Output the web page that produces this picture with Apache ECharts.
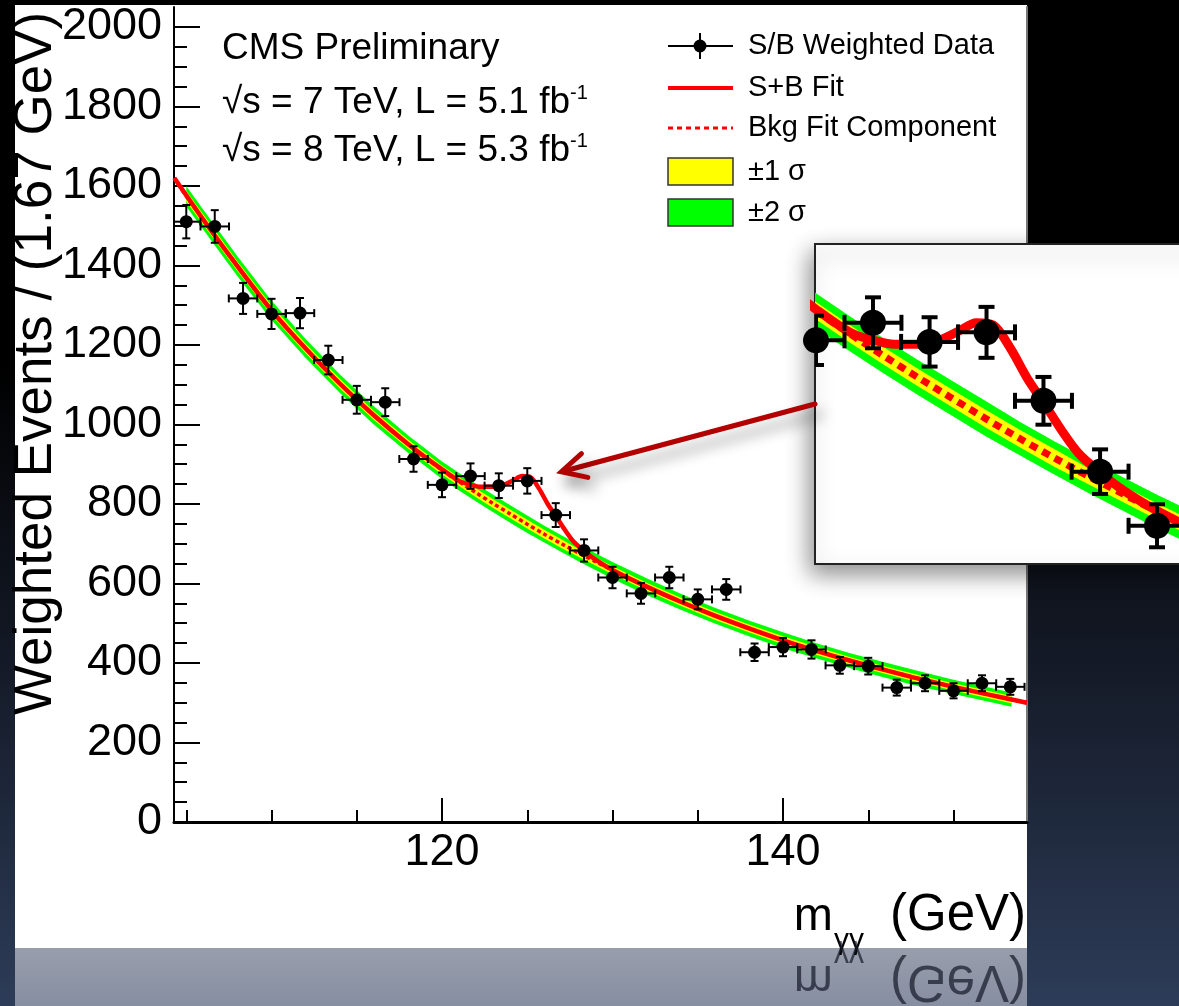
<!DOCTYPE html>
<html>
<head>
    <meta charset="utf-8">
    <title>CMS Preliminary - S/B weighted diphoton mass</title>
    <script src="https://cdn.jsdelivr.net/npm/echarts@6/dist/echarts.min.js"></script>
    <style>
        html, body { margin: 0; padding: 0; }
        body {
            width: 1179px; height: 1006px; overflow: hidden;
            background: linear-gradient(to bottom, #000 0%, #000 36%, #141a27 66%, #2d3c58 100%);
        }
        #chart { width: 1179px; height: 1006px; }
    </style>
</head>
<body>
<div id="chart"></div>
<script>
    // S/B weighted data: bin centres (GeV), weighted events, errors
    var massBins = [105.0, 106.67, 108.33, 110.0, 111.67, 113.33, 115.0, 116.67, 118.33, 120.0,
        121.67, 123.33, 125.0, 126.67, 128.33, 130.0, 131.67, 133.33, 135.0, 136.67,
        138.33, 140.0, 141.67, 143.33, 145.0, 146.67, 148.33, 150.0, 151.67, 153.33];
    var weightedEvents = [1510, 1498, 1317, 1278, 1280, 1162, 1062, 1056, 913, 848,
        870, 846, 858, 772, 683, 615, 575, 615, 560, 585,
        427, 440, 434, 394, 392, 338, 349, 330, 349, 340];
    var eventErrors = [42, 41, 39, 38, 38, 36, 35, 35, 32, 31,
        32, 31, 32, 30, 28, 27, 26, 27, 25, 26,
        22, 23, 23, 21, 21, 20, 20, 19, 20, 20];
    var binWidth = 1.67;

    // background fit component and its +-1 / +-2 sigma half widths
    var fitMass = [104.3, 105, 106, 108, 110, 112, 114, 116, 118, 120,
        121, 122, 123, 124, 125, 126, 127, 128, 129, 130,
        132, 134, 136, 138, 140, 142, 144, 146, 148, 150, 152, 153.4, 154.3];
    var bkgFit = [1620, 1574, 1515, 1398, 1287, 1191, 1103, 1023, 951, 885,
        856, 828, 801, 775, 749, 724, 700, 677, 655, 633,
        592, 554, 519, 487, 457, 430, 405, 382, 360, 340, 321, 308, 300];
    var sigma1 = [13, 13, 13, 12, 12, 12, 12, 11, 11, 11,
        11, 11, 11, 11, 11, 11, 11, 10, 10, 10,
        10, 10, 10, 10, 10, 10, 9, 9, 9, 9, 9, 9, 9];
    var sigma2 = [26, 26, 25, 25, 24, 24, 23, 23, 22, 22,
        22, 22, 22, 22, 22, 21, 21, 21, 21, 21,
        21, 20, 20, 20, 20, 19, 19, 19, 19, 18, 18, 18, 18];

    // signal + background fit
    var sbMass = [104.3, 106, 108, 110, 112, 114, 116, 118, 120,
        121, 121.6, 122.3, 123, 123.6, 124.2, 124.7, 125.2, 125.7, 126.2, 126.7, 127.2, 127.7, 128.3, 129, 130,
        132, 134, 136, 138, 140, 142, 144, 146, 148, 150, 152, 154.3];
    var sbFit = [1620, 1515, 1398, 1287, 1191, 1103, 1023, 951, 887,
        858, 849, 843, 843, 848, 860, 870, 867, 838, 800, 768, 735, 706, 683, 660, 634,
        592, 554, 519, 487, 457, 430, 405, 382, 360, 340, 321, 300];

    // axis ticks
    var xMajorTicks = [120, 140];
    var xMinorTicks = [105, 110, 115, 125, 130, 135, 145, 150];
    var yMajorTicks = [0, 200, 400, 600, 800, 1000, 1200, 1400, 1600, 1800, 2000];
    var yMinorTicks = [50, 100, 150, 250, 300, 350, 450, 500, 550, 650, 700, 750, 850, 900, 950,
        1050, 1100, 1150, 1250, 1300, 1350, 1450, 1500, 1550, 1650, 1700, 1750, 1850, 1900, 1950];

    // arrow from the inset to the excess (data coordinates)
    var arrowTip = [127.0, 881];
    var arrowTail = [119.97, 768];

    var font = "'Liberation Sans', Arial, Helvetica, sans-serif";

    function pairs(xs, ys) {
        return xs.map(function (x, i) { return [x, ys[i]]; });
    }

    // green / yellow band: polygon between bkg-half and bkg+half (the end samples are only for the lines)
    function band(half, color, xi, yi) {
        return {
            type: 'custom', xAxisIndex: xi, yAxisIndex: yi, clip: true, silent: true, z: 1,
            data: [[fitMass[1], bkgFit[1]]],
            renderItem: function (params, api) {
                var upper = [], lower = [];
                for (var i = 1; i < fitMass.length - 1; i++) {
                    upper.push(api.coord([fitMass[i], bkgFit[i] + half[i]]));
                    lower.unshift(api.coord([fitMass[i], bkgFit[i] - half[i]]));
                }
                return { type: 'polygon', shape: { points: upper.concat(lower) }, style: { fill: color } };
            }
        };
    }

    function errorBars(xi, yi, lw, cap) {
        return {
            type: 'custom', xAxisIndex: xi, yAxisIndex: yi, clip: true, silent: true, z: 5,
            encode: { x: 0, y: 1 },
            data: massBins.map(function (m, i) { return [m, weightedEvents[i], eventErrors[i]]; }),
            renderItem: function (params, api) {
                var x = api.value(0), y = api.value(1), e = api.value(2), h = binWidth / 2;
                var l = api.coord([x - h, y]), r = api.coord([x + h, y]);
                var t = api.coord([x, y + e]), b = api.coord([x, y - e]);
                var st = { stroke: '#000', lineWidth: lw };
                function seg(x1, y1, x2, y2) {
                    return { type: 'line', shape: { x1: x1, y1: y1, x2: x2, y2: y2 }, style: st };
                }
                return { type: 'group', children: [
                    seg(l[0], l[1], r[0], r[1]),
                    seg(t[0], t[1], b[0], b[1]),
                    seg(l[0], l[1] - cap, l[0], l[1] + cap),
                    seg(r[0], r[1] - cap, r[0], r[1] + cap),
                    seg(t[0] - cap, t[1], t[0] + cap, t[1]),
                    seg(b[0] - cap, b[1], b[0] + cap, b[1])
                ] };
            }
        };
    }

    function plotSeries(xi, yi, k) {
        return [
            band(sigma2, '#00ff00', xi, yi),
            band(sigma1, '#ffff00', xi, yi),
            {
                type: 'line', name: 'Bkg Fit Component', xAxisIndex: xi, yAxisIndex: yi,
                data: pairs(fitMass, bkgFit), smooth: 0.3, symbol: 'none', silent: true, z: 3,
                lineStyle: { color: '#ff0000', width: 3.5 * k, type: [4 * k, 3 * k], opacity: 1 }
            }, {
                type: 'line', name: 'S+B Fit', xAxisIndex: xi, yAxisIndex: yi,
                data: pairs(sbMass, sbFit), smooth: 0.3, symbol: 'none', silent: true, z: 4,
                lineStyle: { color: '#ff0000', width: 4.5 * k, opacity: 1 }
            },
            errorBars(xi, yi, 2 * k, 4 * k),
            {
                type: 'scatter', name: 'S/B Weighted Data', xAxisIndex: xi, yAxisIndex: yi,
                data: pairs(massBins, weightedEvents), symbol: 'circle', symbolSize: 13 * k,
                itemStyle: { color: '#000', opacity: 1 }, silent: true, z: 6
            }
        ];
    }

    function txt(text, x, y, size, align) {
        return {
            type: 'text', x: x, y: y, z: 10,
            style: { text: text, fontSize: size, fontFamily: font, fill: '#000',
                     align: align || 'left', verticalAlign: 'middle' }
        };
    }

    function mirrored(text, x, y, size, align) {
        var el = txt(text, x, 2 * 948 - y, size, align);
        el.scaleY = -1;
        el.z = 11;
        el.style.fill = 'rgba(22,28,42,0.72)';
        return el;
    }

    var sup = { sup: { fontSize: 20, verticalAlign: 'top', lineHeight: 24, fontFamily: font } };

    var staticGraphics = [
        // slide panel and its reflection
        { type: 'rect', z: -10, shape: { x: 15, y: 5, width: 1012, height: 943 }, style: { fill: '#fff' } },
        { type: 'rect', z: 10, shape: { x: 15, y: 948, width: 1012, height: 58 },
          style: { fill: { type: 'linear', x: 0, y: 0, x2: 0, y2: 1,
                  colorStops: [{ offset: 0, color: '#989eac' }, { offset: 1, color: '#868ea1' }] } } },

        // y axis title
        { type: 'text', x: 36, y: 715, rotation: Math.PI / 2, z: 10,
          style: { text: 'Weighted Events / (1.67 GeV)', fontSize: 53, fontFamily: font, fill: '#000',
                   align: 'left', verticalAlign: 'middle' } },

        // x axis title and its mirror image
        txt('m', 833, 917, 47, 'right'),
        txt('γγ', 834, 941, 30, 'left'),
        txt('(GeV)', 1026, 916, 51, 'right'),
        mirrored('m', 833, 917, 47, 'right'),
        mirrored('γγ', 834, 941, 30, 'left'),
        mirrored('(GeV)', 1026, 916, 51, 'right'),

        // CMS labels
        txt('CMS Preliminary', 222, 49, 37),
        { type: 'text', x: 222, y: 103, z: 10,
          style: { text: '√s = 7 TeV, L = 5.1 fb{sup|-1}', fontSize: 37, lineHeight: 40, fontFamily: font,
                   fill: '#000', verticalAlign: 'middle', rich: sup } },
        { type: 'text', x: 222, y: 151, z: 10,
          style: { text: '√s = 8 TeV, L = 5.3 fb{sup|-1}', fontSize: 37, lineHeight: 40, fontFamily: font,
                   fill: '#000', verticalAlign: 'middle', rich: sup } },

        // legend
        { type: 'line', z: 10, shape: { x1: 668, y1: 46, x2: 733, y2: 46 }, style: { stroke: '#000', lineWidth: 2 } },
        { type: 'line', z: 10, shape: { x1: 700, y1: 33, x2: 700, y2: 59 }, style: { stroke: '#000', lineWidth: 2 } },
        { type: 'circle', z: 10, shape: { cx: 700, cy: 46, r: 6.5 }, style: { fill: '#000' } },
        txt('S/B Weighted Data', 748, 46, 29),
        { type: 'line', z: 10, shape: { x1: 668, y1: 88, x2: 733, y2: 88 }, style: { stroke: '#ff0000', lineWidth: 4 } },
        txt('S+B Fit', 748, 88, 29),
        { type: 'line', z: 10, shape: { x1: 668, y1: 128, x2: 733, y2: 128 }, style: { stroke: '#ff0000', lineWidth: 3, lineDash: [5, 4] } },
        txt('Bkg Fit Component', 748, 128, 29),
        { type: 'rect', z: 10, shape: { x: 668, y: 158, width: 65, height: 27 }, style: { fill: '#ffff00', stroke: '#333', lineWidth: 1.5 } },
        txt('±1 σ', 748, 172, 29),
        { type: 'rect', z: 10, shape: { x: 668, y: 199, width: 65, height: 27 }, style: { fill: '#00ff00', stroke: '#333', lineWidth: 1.5 } },
        txt('±2 σ', 748, 213, 29)
    ];

    var noSplit = { show: false };
    var labelStyle = { fontSize: 45, fontFamily: font, color: '#000' };

    var option = {
        animation: false,
        textStyle: { fontFamily: font },
        grid: [
            { left: 174, top: 7, width: 853, height: 815, outerBoundsMode: 'none' },
            { left: 815, top: 244, width: 400, height: 320, outerBoundsMode: 'none', show: true,
              backgroundColor: '#fff', borderColor: '#222', borderWidth: 2,
              shadowBlur: 22, shadowColor: 'rgba(0,0,0,0.45)', shadowOffsetX: -4, shadowOffsetY: 9 }
        ],
        xAxis: [
            { type: 'value', gridIndex: 0, position: 'bottom', min: 104.28, max: 154.31,
              axisLine: { onZero: false, lineStyle: { color: '#000', width: 3 } },
              axisTick: { inside: true, length: 24, customValues: xMajorTicks, lineStyle: { color: '#000', width: 2 } },
              axisLabel: Object.assign({ customValues: xMajorTicks, margin: 8,
                  formatter: function (v) { return String(v); } }, labelStyle),
              splitLine: noSplit },
            { type: 'value', gridIndex: 0, position: 'bottom', min: 104.28, max: 154.31,
              axisLine: { show: false },
              axisTick: { inside: true, length: 12, customValues: xMinorTicks, lineStyle: { color: '#000', width: 2 } },
              axisLabel: { show: false }, splitLine: noSplit },
            { type: 'value', gridIndex: 1, min: 119.97, max: 131.7, show: false, splitLine: noSplit }
        ],
        yAxis: [
            { type: 'value', gridIndex: 0, position: 'left', min: 0, max: 2050,
              axisLine: { show: true, onZero: false, lineStyle: { color: '#000', width: 2 } },
              axisTick: { show: true, inside: true, length: 26, customValues: yMajorTicks, lineStyle: { color: '#000', width: 2 } },
              axisLabel: Object.assign({ customValues: yMajorTicks, margin: 12,
                  formatter: function (v) { return String(v); } }, labelStyle),
              splitLine: noSplit },
            { type: 'value', gridIndex: 0, position: 'left', min: 0, max: 2050,
              axisLine: { show: false },
              axisTick: { show: true, inside: true, length: 13, customValues: yMinorTicks, lineStyle: { color: '#000', width: 2 } },
              axisLabel: { show: false }, splitLine: noSplit },
            { type: 'value', gridIndex: 0, position: 'right', min: 0, max: 2050, z: -1,
              axisLine: { show: true, onZero: false, lineStyle: { color: '#777', width: 2 } },
              axisTick: { show: false }, axisLabel: { show: false }, splitLine: noSplit },
            { type: 'value', gridIndex: 1, min: 567, max: 969, show: false, splitLine: noSplit }
        ],
        series: [].concat(plotSeries(0, 0, 1), plotSeries(2, 3, 2)),
        graphic: { elements: staticGraphics }
    };

    var chart = echarts.init(document.getElementById('chart'));
    chart.setOption(option);

    // arrow from the zoom inset to the bump, placed through the axes
    var tip = chart.convertToPixel({ xAxisIndex: 0, yAxisIndex: 0 }, arrowTip);
    var tail = chart.convertToPixel({ xAxisIndex: 2, yAxisIndex: 3 }, arrowTail);
    var dx = tail[0] - tip[0], dy = tail[1] - tip[1], len = Math.sqrt(dx * dx + dy * dy);
    var ux = dx / len, uy = dy / len, arm = 27, ang = 27 * Math.PI / 180;
    function armPoint(a) {
        return [tip[0] + arm * (ux * Math.cos(a) - uy * Math.sin(a)),
                tip[1] + arm * (ux * Math.sin(a) + uy * Math.cos(a))];
    }
    var arrowStyle = { stroke: '#b30000', lineWidth: 5, lineCap: 'round', lineJoin: 'miter', fill: null,
        shadowBlur: 14, shadowColor: 'rgba(0,0,0,0.4)', shadowOffsetX: 6, shadowOffsetY: 10 };
    option.graphic = { elements: staticGraphics.concat([
        { type: 'line', z: 20, shape: { x1: tip[0] + 3 * ux, y1: tip[1] + 3 * uy, x2: tail[0], y2: tail[1] }, style: arrowStyle },
        { type: 'polyline', z: 20, shape: { points: [armPoint(-ang), tip, armPoint(ang)] }, style: arrowStyle }
    ]) };
    chart.setOption(option, true);
</script>
</body>
</html>
